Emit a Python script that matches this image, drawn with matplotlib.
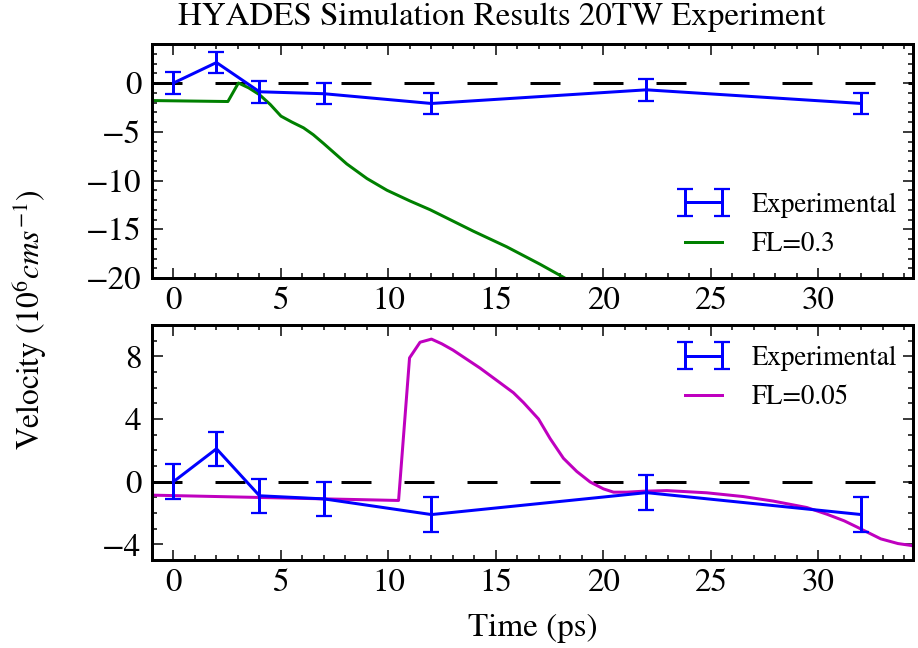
import matplotlib
matplotlib.use("Agg")
import matplotlib.pyplot as plt
from matplotlib.ticker import MultipleLocator

# ---- data ----
exp_t = [0, 2, 4, 7, 12, 22, 32]
exp_v = [0.0, 2.1, -0.9, -1.1, -2.1, -0.7, -2.1]
exp_err = [1.1, 1.1, 1.1, 1.1, 1.1, 1.1, 1.1]

fl03_t = [-1.0, 2.53, 3.02, 3.5, 4.0, 4.5, 5.0, 5.5, 6.05, 6.5, 6.98, 8.06, 9.0, 9.93, 11.0, 11.94, 13.95,
          15.5, 17.06, 18.2, 20.0, 25.0, 34.4]
fl03_v = [-1.8, -1.9, 0.0, -0.5, -1.2, -2.2, -3.4, -4.0, -4.6, -5.3, -6.2, -8.3, -9.8, -11.0, -12.1, -13.0,
          -15.2, -16.8, -18.6, -20.0, -22.5, -29.0, -40.0]

fl005_t = [-1.0, 10.47, 10.98, 11.47, 12.0, 12.48, 13.0, 14.26, 15.2, 15.81, 16.28, 16.98, 17.52, 18.14,
           18.76, 19.38, 20.0, 20.47, 21.09, 21.86, 22.95, 24.8, 26.5, 27.9, 29.46, 30.4, 31.2, 31.8,
           32.9, 33.7, 34.3, 34.4]
fl005_v = [-0.86, -1.2, 7.9, 8.9, 9.1, 8.8, 8.4, 7.25, 6.3, 5.68, 5.05, 4.0, 2.75, 1.49,
           0.65, -0.02, -0.46, -0.67, -0.67, -0.61, -0.57, -0.71, -0.95, -1.24, -1.65, -2.08, -2.5, -2.9,
           -3.65, -3.95, -4.07, -4.1]

title = "HYADES Simulation Results 20TW Experiment"
xlabel = "Time (ps)"
ylabel = r"Velocity ($10^6 cms^{-1}$)"

# ---- style ----
plt.rcParams.update({
    "font.family": ["STIXGeneral", "DejaVu Serif"],
    "mathtext.fontset": "stix",
    "font.size": 22,
    "axes.linewidth": 2,
    "xtick.direction": "in", "ytick.direction": "in",
    "xtick.top": True, "ytick.right": True,
    "xtick.major.size": 7, "ytick.major.size": 7,
    "xtick.minor.size": 3.5, "ytick.minor.size": 3.5,
    "xtick.major.width": 1, "ytick.major.width": 1,
    "xtick.minor.width": 1, "ytick.minor.width": 1,
    "xtick.major.pad": 6, "ytick.major.pad": 7,
    "legend.numpoints": 2,
    "legend.frameon": False,
    "legend.fontsize": 18,
    "legend.handletextpad": 0.8,
    "legend.handlelength": 1.95,
    "legend.labelspacing": 0.52,
    "legend.borderpad": 0.0,
    "legend.borderaxespad": 0.0,
})

fig = plt.figure(figsize=(8.5, 6), dpi=108)
W, H = 918, 648
ax1 = fig.add_axes([152 / W, 1 - 278 / H, (913 - 152) / W, (278 - 44) / H])
ax2 = fig.add_axes([152 / W, 1 - 560 / H, (913 - 152) / W, (560 - 325) / H])

xlim = (-1, 34.4)

handles = {}
for ax in (ax1, ax2):
    ax.axhline(0, color="black", lw=2, dashes=(10, 11), zorder=1)
    eb = ax.errorbar(exp_t, exp_v, yerr=exp_err, color="blue", lw=2, elinewidth=2,
                     capsize=5.5, capthick=1.5, label="Experimental", zorder=3)
    handles[ax] = [eb]
    ax.set_xlim(*xlim)
    ax.xaxis.set_major_locator(MultipleLocator(5))
    ax.xaxis.set_minor_locator(MultipleLocator(1))

l1, = ax1.plot(fl03_t, fl03_v, color="green", lw=2, label="FL=0.3", zorder=2)
ax1.set_ylim(-20, 4)
ax1.yaxis.set_major_locator(MultipleLocator(5))
ax1.yaxis.set_minor_locator(MultipleLocator(1))
ax1.legend(handles=handles[ax1] + [l1], loc="lower right",
           bbox_to_anchor=((897 - 152) / 761, (278 - 257) / 234))

l2, = ax2.plot(fl005_t, fl005_v, color="#bf00bf", lw=2, label="FL=0.05", zorder=2)
ax2.set_ylim(-5, 10)
ax2.yaxis.set_major_locator(MultipleLocator(4))
ax2.yaxis.set_minor_locator(MultipleLocator(1))
ax2.legend(handles=handles[ax2] + [l2], loc="upper right",
           bbox_to_anchor=((897 - 152) / 761, (560 - 346) / 235))
ax2.set_xlabel(xlabel, labelpad=10)

fig.text(502 / W, 1 - 25 / H, title, ha="center", va="baseline")
fig.text(30 / W, 1 - 320 / H, ylabel, rotation=90, ha="center", va="center", fontsize=21)

fig.savefig("out.png", dpi=108, facecolor="white")
